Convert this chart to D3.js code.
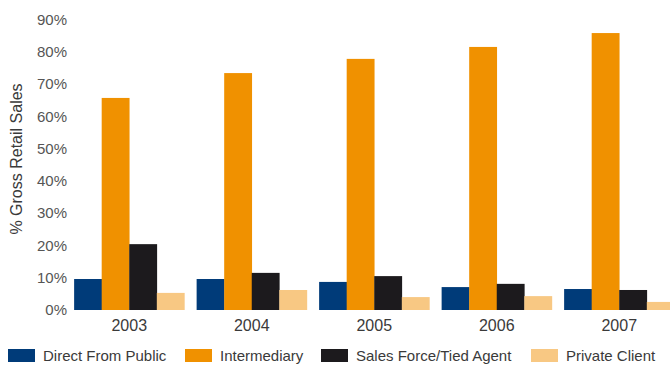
<!DOCTYPE html>
<html>
<head>
<meta charset="utf-8">
<script src="https://cdn.jsdelivr.net/npm/d3@7"></script>
<style>
  html, body { margin: 0; padding: 0; background: #fff; }
  svg { display: block; }
  text { font-family: "Liberation Sans", Arial, Helvetica, sans-serif; }
</style>
</head>
<body>
<svg id="chart" width="670" height="365"></svg>
<script>
const years = ["2003", "2004", "2005", "2006", "2007"];
const seriesNames = ["Direct From Public", "Intermediary", "Sales Force/Tied Agent", "Private Client"];
const directFromPublic = [9.6, 9.6, 8.7, 7.1, 6.5];
const intermediary = [65.7, 73.4, 77.8, 81.5, 85.8];
const salesForce = [20.4, 11.5, 10.5, 8.1, 6.2];
const privateClient = [5.3, 6.2, 4.0, 4.3, 2.5];
const yTicks = [0, 10, 20, 30, 40, 50, 60, 70, 80, 90];
const colors = ["#003b79", "#f09100", "#1c1a1d", "#f8c883"];
const yTitle = "% Gross Retail Sales";

const seriesValues = [directFromPublic, intermediary, salesForce, privateClient];
const data = years.map((yr, i) => ({ year: yr, values: seriesNames.map((s, j) => ({ key: s, idx: j, value: seriesValues[j][i] })) }));

const svg = d3.select("#chart");

const x0 = d3.scaleBand().domain(years).range([68, 680.5]).paddingInner(0.1).paddingOuter(0.05);
const x1 = d3.scaleBand().domain(seriesNames).range([0, x0.bandwidth()]).padding(0);
const y = d3.scaleLinear().domain([0, 90]).range([310, 19.5]);
const color = d3.scaleOrdinal().domain(seriesNames).range(colors);

// bars
const groups = svg.append("g").selectAll("g").data(data).join("g")
  .attr("transform", d => `translate(${x0(d.year)},0)`);
groups.selectAll("rect").data(d => d.values).join("rect")
  .attr("x", d => x1(d.key))
  .attr("y", d => y(d.value))
  .attr("width", x1.bandwidth() + 0.3)
  .attr("height", d => y(0) - y(d.value))
  .attr("fill", d => color(d.key));

// y axis
const yAxis = d3.axisLeft(y).tickValues(yTicks).tickFormat(d => d + "%").tickSize(0).tickPadding(0);
const gy = svg.append("g").attr("transform", "translate(67,0)").call(yAxis);
gy.select(".domain").remove();
gy.selectAll("text").attr("font-size", 15).attr("fill", "#555").attr("font-family", "Liberation Sans, Arial, sans-serif");

// x axis
const xAxis = d3.axisBottom(x0).tickSize(0).tickPadding(0);
const gx = svg.append("g").attr("transform", "translate(0,320)").call(xAxis);
gx.select(".domain").remove();
gx.selectAll("text").attr("font-size", 16).attr("fill", "#3a3a3a").attr("font-family", "Liberation Sans, Arial, sans-serif");

// y title
svg.append("text")
  .attr("transform", "translate(21.5,159) rotate(-90)")
  .attr("text-anchor", "middle")
  .attr("font-size", 16)
  .attr("fill", "#3a3a3a")
  .text(yTitle);

// legend
const legendX = [8, 185, 321, 531];
const legend = svg.append("g").selectAll("g").data(seriesNames).join("g")
  .attr("transform", (d, i) => `translate(${legendX[i]},349)`);
legend.append("rect").attr("width", 27).attr("height", 13).attr("fill", d => color(d));
legend.append("text").attr("x", 35).attr("y", 12).attr("font-size", 15).attr("fill", "#3a3a3a").text(d => d);
</script>
</body>
</html>
